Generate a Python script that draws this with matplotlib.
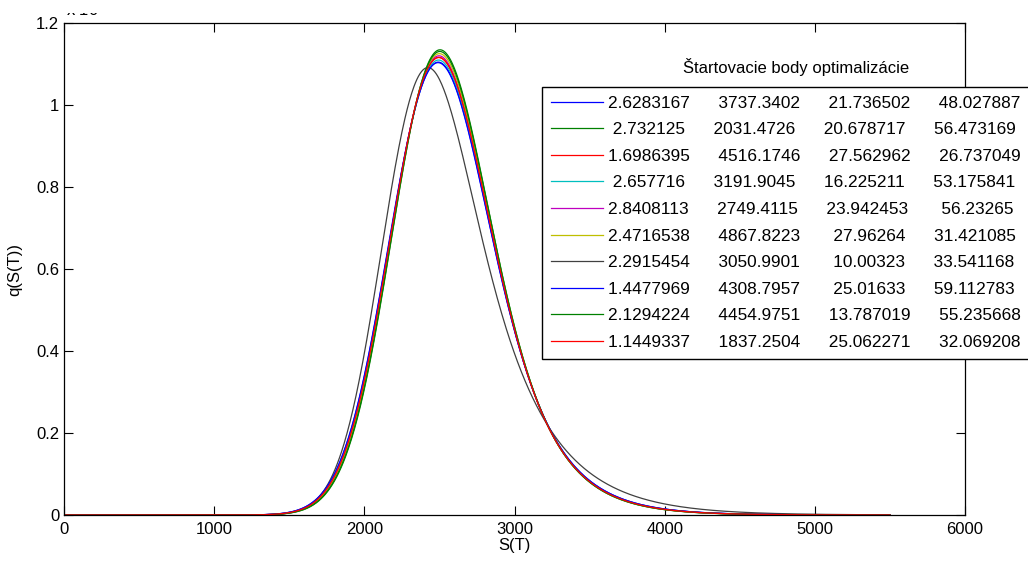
import numpy as np
import matplotlib
matplotlib.use("Agg")
import matplotlib.pyplot as plt
from matplotlib.transforms import Bbox

plt.rcParams['font.family'] = ['Liberation Sans', 'DejaVu Sans']

# starting points of the optimisation (legend columns)
p1 = ['2.6283167', '2.732125', '1.6986395', '2.657716', '2.8408113',
      '2.4716538', '2.2915454', '1.4477969', '2.1294224', '1.1449337']
p2 = ['3737.3402', '2031.4726', '4516.1746', '3191.9045', '2749.4115',
      '4867.8223', '3050.9901', '4308.7957', '4454.9751', '1837.2504']
p3 = ['21.736502', '20.678717', '27.562962', '16.225211', '23.942453',
      '27.96264', '10.00323', '25.01633', '13.787019', '25.062271']
p4 = ['48.027887', '56.473169', '26.737049', '53.175841', '56.23265',
      '31.421085', '33.541168', '59.112783', '55.235668', '32.069208']

# density shapes (exp.-modified gaussian):
# location, spread, tail length, all in units of S(T)
loc = [2294, 2312, 2300, 2297, 2302, 2306, 2205, 2292, 2310, 2300]
spread = [282, 276, 280, 281, 279, 278, 248, 282, 277, 280]
tail = [286, 275, 281, 284, 280, 278, 372, 287, 276, 281]

colors = ['#0000ff', '#008000', '#ff0000', '#00bfbf', '#bf00bf',
          '#bfbf00', '#404040', '#0000ff', '#008000', '#ff0000']


def erfc(z):
    a = np.abs(z)
    t = 1.0 / (1.0 + 0.3275911 * a)
    poly = t * (0.254829592 + t * (-0.284496736 + t * (1.421413741
           + t * (-1.453152027 + t * 1.061405429))))
    r = poly * np.exp(-a * a)
    return np.where(z >= 0, r, 2.0 - r)


def density(x, mu, sig, tau):
    lam = 1.0 / tau
    return 0.5 * lam * np.exp(0.5 * lam * (2 * mu + lam * sig ** 2 - 2 * x)) \
        * erfc((mu + lam * sig ** 2 - x) / (np.sqrt(2) * sig))


s = np.linspace(0, 5500, 1101)

fig = plt.figure(figsize=(10.28, 5.62), dpi=100)
ax = fig.add_axes([64 / 1028, 47 / 562, 901 / 1028, 492 / 562])

handles = []
for i in range(10):
    h, = ax.plot(s, density(s, loc[i], spread[i], tail[i]) * 1e3,
                 color=colors[i], lw=0.9)
    handles.append(h)

labels = [f"{a:>9}{b:>15}{c:>15}{d:>15}" for a, b, c, d in zip(p1, p2, p3, p4)]

ax.set_xlim(0, 6000)
ax.set_ylim(0, 1.2)
ax.set_xticks(np.arange(0, 6001, 1000))
ax.set_yticks(np.arange(0, 1.21, 0.2))
ax.set_yticklabels(['0', '0.2', '0.4', '0.6', '0.8', '1', '1.2'])
ax.tick_params(direction='in', length=6.5, width=0.8, top=True, right=True,
               labelsize=12)
ax.tick_params(axis='x', pad=5)
ax.tick_params(axis='y', pad=3.5)
for sp in ax.spines.values():
    sp.set_linewidth(0.9)

ax.set_xlabel('S(T)', fontsize=12, labelpad=1)
ax.set_ylabel('q(S(T))', fontsize=12)
ax.yaxis.set_label_coords(-0.046, 0.5)

leg = ax.legend(handles, labels, loc='upper left',
                bbox_to_anchor=((542 - 64) / 901, (515 - 87) / 492),
                borderaxespad=0, fontsize=12.4, frameon=True, fancybox=False,
                edgecolor='black', framealpha=1, handlelength=3.05,
                handletextpad=0.3, labelspacing=0.67, borderpad=0.5)
leg.get_frame().set_linewidth(1.0)

ax.text((796 - 64) / 901, (515 - 67) / 492, 'Štartovacie body optimalizácie',
        transform=ax.transAxes, ha='center', va='center', fontsize=12)

# exponent label, cut off at the top like in the original
exp_txt = fig.text(66 / 1028, 1 - 16 / 562, r'x 10$^{-3}$', fontsize=12,
                   va='baseline', ha='left')
exp_txt.set_clip_box(Bbox.from_extents(0, 0, 1028, 562 - 13))

fig.savefig('out.png', dpi=100)
